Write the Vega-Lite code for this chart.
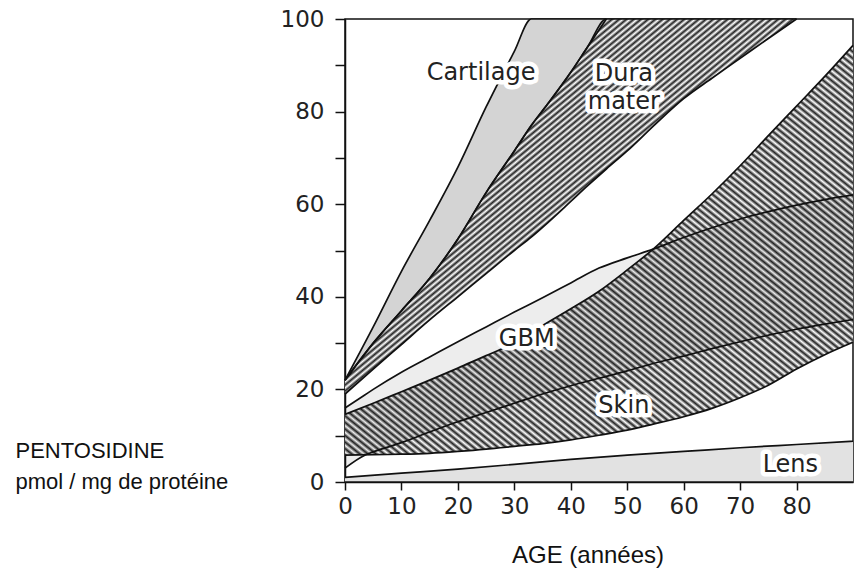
{
"$schema": "https://vega.github.io/schema/vega-lite/v6.json",
"width": 508,
"height": 463,
"autosize": {"type": "none"},
"padding": {"left": 345, "top": 19, "right": 4, "bottom": 87},
"background": "white",
"config": {
 "view": {"stroke": "#111", "strokeWidth": 1.5},
 "axis": {"grid": false, "domainColor": "#111", "domainWidth": 1.5, "tickColor": "#111", "tickWidth": 1.5, "labelFont": "DejaVu Sans", "labelFontSize": 23, "labelColor": "#222", "labelFlush": false, "labelOverlap": false, "titleFont": "Liberation Sans", "titleFontWeight": "normal", "titleColor": "#111"}
},
"datasets": {
 "bands": [
  {"band": "Cartilage", "age": 0, "lo": 22, "hi": 22},
  {"band": "Cartilage", "age": 5, "lo": 30, "hi": 33.5},
  {"band": "Cartilage", "age": 10, "lo": 37, "hi": 45.5},
  {"band": "Cartilage", "age": 15, "lo": 44, "hi": 56.5},
  {"band": "Cartilage", "age": 20, "lo": 52.5, "hi": 68},
  {"band": "Cartilage", "age": 25, "lo": 62.5, "hi": 81},
  {"band": "Cartilage", "age": 30, "lo": 71.5, "hi": 93},
  {"band": "Cartilage", "age": 33, "lo": 77, "hi": 100},
  {"band": "Cartilage", "age": 36, "lo": 81.8, "hi": 100},
  {"band": "Cartilage", "age": 40, "lo": 88.5, "hi": 100},
  {"band": "Cartilage", "age": 43, "lo": 94, "hi": 100},
  {"band": "Cartilage", "age": 46.3, "lo": 100, "hi": 100},
  {"band": "Dura", "age": 0, "lo": 19, "hi": 22},
  {"band": "Dura", "age": 5, "lo": 24.4, "hi": 30},
  {"band": "Dura", "age": 10, "lo": 29.7, "hi": 37},
  {"band": "Dura", "age": 15, "lo": 35, "hi": 44},
  {"band": "Dura", "age": 20, "lo": 40, "hi": 52.5},
  {"band": "Dura", "age": 25, "lo": 45, "hi": 62.5},
  {"band": "Dura", "age": 30, "lo": 50, "hi": 71.5},
  {"band": "Dura", "age": 33, "lo": 52.9, "hi": 77},
  {"band": "Dura", "age": 36, "lo": 56.1, "hi": 81.8},
  {"band": "Dura", "age": 40, "lo": 60.6, "hi": 88.5},
  {"band": "Dura", "age": 43, "lo": 64, "hi": 94},
  {"band": "Dura", "age": 46.3, "lo": 67.6, "hi": 100},
  {"band": "Dura", "age": 50, "lo": 71.5, "hi": 100},
  {"band": "Dura", "age": 55, "lo": 77.3, "hi": 100},
  {"band": "Dura", "age": 60, "lo": 82.8, "hi": 100},
  {"band": "Dura", "age": 65, "lo": 87.2, "hi": 100},
  {"band": "Dura", "age": 70, "lo": 91.5, "hi": 100},
  {"band": "Dura", "age": 75, "lo": 95.8, "hi": 100},
  {"band": "Dura", "age": 80, "lo": 100, "hi": 100},
  {"band": "GBM", "age": 0, "lo": 3, "hi": 16},
  {"band": "GBM", "age": 3.5, "lo": 5.8, "hi": 18.8},
  {"band": "GBM", "age": 5, "lo": 6.5, "hi": 20},
  {"band": "GBM", "age": 10, "lo": 8.5, "hi": 23.7},
  {"band": "GBM", "age": 15, "lo": 10.8, "hi": 27},
  {"band": "GBM", "age": 20, "lo": 13, "hi": 30.3},
  {"band": "GBM", "age": 25, "lo": 15, "hi": 33.5},
  {"band": "GBM", "age": 30, "lo": 17, "hi": 36.7},
  {"band": "GBM", "age": 35, "lo": 19, "hi": 39.8},
  {"band": "GBM", "age": 40, "lo": 20.8, "hi": 43},
  {"band": "GBM", "age": 45, "lo": 22.4, "hi": 46.2},
  {"band": "GBM", "age": 50, "lo": 24, "hi": 48.4},
  {"band": "GBM", "age": 54.6, "lo": 25.6, "hi": 50.3},
  {"band": "GBM", "age": 60, "lo": 27.2, "hi": 52.8},
  {"band": "GBM", "age": 65, "lo": 28.8, "hi": 54.9},
  {"band": "GBM", "age": 70, "lo": 30.3, "hi": 56.8},
  {"band": "GBM", "age": 75, "lo": 31.7, "hi": 58.4},
  {"band": "GBM", "age": 80, "lo": 33, "hi": 59.8},
  {"band": "GBM", "age": 85, "lo": 34.1, "hi": 61},
  {"band": "GBM", "age": 90, "lo": 35.1, "hi": 62},
  {"band": "Skin", "age": 0, "lo": 5.8, "hi": 14.6},
  {"band": "Skin", "age": 5, "lo": 5.9, "hi": 17},
  {"band": "Skin", "age": 10, "lo": 6, "hi": 19.5},
  {"band": "Skin", "age": 15, "lo": 6.2, "hi": 22},
  {"band": "Skin", "age": 20, "lo": 6.6, "hi": 24.6},
  {"band": "Skin", "age": 25, "lo": 7.1, "hi": 27.3},
  {"band": "Skin", "age": 27.5, "lo": 7.4, "hi": 28.6},
  {"band": "Skin", "age": 30, "lo": 7.7, "hi": 30.3},
  {"band": "Skin", "age": 35, "lo": 8.3, "hi": 33.8},
  {"band": "Skin", "age": 40, "lo": 9.1, "hi": 37.4},
  {"band": "Skin", "age": 45, "lo": 10.1, "hi": 41.2},
  {"band": "Skin", "age": 50, "lo": 11.2, "hi": 45.8},
  {"band": "Skin", "age": 54.6, "lo": 12.5, "hi": 50.3},
  {"band": "Skin", "age": 60, "lo": 14.1, "hi": 56.5},
  {"band": "Skin", "age": 65, "lo": 15.9, "hi": 62.2},
  {"band": "Skin", "age": 70, "lo": 18.2, "hi": 68.3},
  {"band": "Skin", "age": 75, "lo": 20.9, "hi": 74.8},
  {"band": "Skin", "age": 80, "lo": 24.4, "hi": 81.2},
  {"band": "Skin", "age": 85, "lo": 27.5, "hi": 87.6},
  {"band": "Skin", "age": 90, "lo": 30.2, "hi": 94.3},
  {"band": "Lens", "age": 0, "lo": 0, "hi": 1},
  {"band": "Lens", "age": 10, "lo": 0, "hi": 1.9},
  {"band": "Lens", "age": 20, "lo": 0, "hi": 2.8},
  {"band": "Lens", "age": 30, "lo": 0, "hi": 3.8},
  {"band": "Lens", "age": 40, "lo": 0, "hi": 4.9},
  {"band": "Lens", "age": 50, "lo": 0, "hi": 5.8},
  {"band": "Lens", "age": 60, "lo": 0, "hi": 6.6},
  {"band": "Lens", "age": 70, "lo": 0, "hi": 7.4},
  {"band": "Lens", "age": 80, "lo": 0, "hi": 8.1},
  {"band": "Lens", "age": 90, "lo": 0, "hi": 8.8}
 ],
 "labels": [
  {"label": "Cartilage", "age": 24.1, "value": 86.9},
  {"label": "Dura\nmater", "age": 49.4, "value": 86.6},
  {"label": "GBM", "age": 32.2, "value": 29.4},
  {"label": "Skin", "age": 49.4, "value": 14.9},
  {"label": "Lens", "age": 78.9, "value": 2.2}
 ]
},
"encoding": {
 "x": {"field": "age", "type": "quantitative", "scale": {"domain": [0, 90], "nice": false, "zero": false},
  "axis": {"values": [0, 10, 20, 30, 40, 50, 60, 70, 80], "tickSize": 8, "labelPadding": 5, "title": "AGE (années)", "titleFontSize": 24, "titleX": 242.5, "titleY": 80, "titleAlign": "center", "titleBaseline": "alphabetic"}}
},
"layer": [
 {
  "data": {"name": "bands"},
  "transform": [{"filter": "datum.band === 'Dura'"}],
  "mark": {"type": "area", "interpolate": "monotone", "fill": {"gradient": "linear", "x1": 0, "y1": 0, "x2": 1, "y2": 1, "stops": [
{"offset":0,"color":"#222"},{"offset":0.004,"color":"#fff"},{"offset":0.008,"color":"#222"},{"offset":0.012,"color":"#fff"},{"offset":0.016,"color":"#222"},{"offset":0.02,"color":"#fff"},{"offset":0.024,"color":"#222"},{"offset":0.028,"color":"#fff"},{"offset":0.032,"color":"#222"},{"offset":0.036,"color":"#fff"},
{"offset":0.04,"color":"#222"},{"offset":0.044,"color":"#fff"},{"offset":0.048,"color":"#222"},{"offset":0.052,"color":"#fff"},{"offset":0.056,"color":"#222"},{"offset":0.06,"color":"#fff"},{"offset":0.064,"color":"#222"},{"offset":0.068,"color":"#fff"},{"offset":0.072,"color":"#222"},{"offset":0.076,"color":"#fff"},
{"offset":0.08,"color":"#222"},{"offset":0.084,"color":"#fff"},{"offset":0.088,"color":"#222"},{"offset":0.092,"color":"#fff"},{"offset":0.096,"color":"#222"},{"offset":0.1,"color":"#fff"},{"offset":0.104,"color":"#222"},{"offset":0.108,"color":"#fff"},{"offset":0.112,"color":"#222"},{"offset":0.116,"color":"#fff"},
{"offset":0.12,"color":"#222"},{"offset":0.124,"color":"#fff"},{"offset":0.128,"color":"#222"},{"offset":0.132,"color":"#fff"},{"offset":0.136,"color":"#222"},{"offset":0.14,"color":"#fff"},{"offset":0.144,"color":"#222"},{"offset":0.148,"color":"#fff"},{"offset":0.152,"color":"#222"},{"offset":0.156,"color":"#fff"},
{"offset":0.16,"color":"#222"},{"offset":0.164,"color":"#fff"},{"offset":0.168,"color":"#222"},{"offset":0.172,"color":"#fff"},{"offset":0.176,"color":"#222"},{"offset":0.18,"color":"#fff"},{"offset":0.184,"color":"#222"},{"offset":0.188,"color":"#fff"},{"offset":0.192,"color":"#222"},{"offset":0.196,"color":"#fff"},
{"offset":0.2,"color":"#222"},{"offset":0.204,"color":"#fff"},{"offset":0.208,"color":"#222"},{"offset":0.212,"color":"#fff"},{"offset":0.216,"color":"#222"},{"offset":0.22,"color":"#fff"},{"offset":0.224,"color":"#222"},{"offset":0.228,"color":"#fff"},{"offset":0.232,"color":"#222"},{"offset":0.236,"color":"#fff"},
{"offset":0.24,"color":"#222"},{"offset":0.244,"color":"#fff"},{"offset":0.248,"color":"#222"},{"offset":0.252,"color":"#fff"},{"offset":0.256,"color":"#222"},{"offset":0.26,"color":"#fff"},{"offset":0.264,"color":"#222"},{"offset":0.268,"color":"#fff"},{"offset":0.272,"color":"#222"},{"offset":0.276,"color":"#fff"},
{"offset":0.28,"color":"#222"},{"offset":0.284,"color":"#fff"},{"offset":0.288,"color":"#222"},{"offset":0.292,"color":"#fff"},{"offset":0.296,"color":"#222"},{"offset":0.3,"color":"#fff"},{"offset":0.304,"color":"#222"},{"offset":0.308,"color":"#fff"},{"offset":0.312,"color":"#222"},{"offset":0.316,"color":"#fff"},
{"offset":0.32,"color":"#222"},{"offset":0.324,"color":"#fff"},{"offset":0.328,"color":"#222"},{"offset":0.332,"color":"#fff"},{"offset":0.336,"color":"#222"},{"offset":0.34,"color":"#fff"},{"offset":0.344,"color":"#222"},{"offset":0.348,"color":"#fff"},{"offset":0.352,"color":"#222"},{"offset":0.356,"color":"#fff"},
{"offset":0.36,"color":"#222"},{"offset":0.364,"color":"#fff"},{"offset":0.368,"color":"#222"},{"offset":0.372,"color":"#fff"},{"offset":0.376,"color":"#222"},{"offset":0.38,"color":"#fff"},{"offset":0.384,"color":"#222"},{"offset":0.388,"color":"#fff"},{"offset":0.392,"color":"#222"},{"offset":0.396,"color":"#fff"},
{"offset":0.4,"color":"#222"},{"offset":0.404,"color":"#fff"},{"offset":0.408,"color":"#222"},{"offset":0.412,"color":"#fff"},{"offset":0.416,"color":"#222"},{"offset":0.42,"color":"#fff"},{"offset":0.424,"color":"#222"},{"offset":0.428,"color":"#fff"},{"offset":0.432,"color":"#222"},{"offset":0.436,"color":"#fff"},
{"offset":0.44,"color":"#222"},{"offset":0.444,"color":"#fff"},{"offset":0.448,"color":"#222"},{"offset":0.452,"color":"#fff"},{"offset":0.456,"color":"#222"},{"offset":0.46,"color":"#fff"},{"offset":0.464,"color":"#222"},{"offset":0.468,"color":"#fff"},{"offset":0.472,"color":"#222"},{"offset":0.476,"color":"#fff"},
{"offset":0.48,"color":"#222"},{"offset":0.484,"color":"#fff"},{"offset":0.488,"color":"#222"},{"offset":0.492,"color":"#fff"},{"offset":0.496,"color":"#222"},{"offset":0.5,"color":"#fff"},{"offset":0.504,"color":"#222"},{"offset":0.508,"color":"#fff"},{"offset":0.512,"color":"#222"},{"offset":0.516,"color":"#fff"},
{"offset":0.52,"color":"#222"},{"offset":0.524,"color":"#fff"},{"offset":0.528,"color":"#222"},{"offset":0.532,"color":"#fff"},{"offset":0.536,"color":"#222"},{"offset":0.54,"color":"#fff"},{"offset":0.544,"color":"#222"},{"offset":0.548,"color":"#fff"},{"offset":0.552,"color":"#222"},{"offset":0.556,"color":"#fff"},
{"offset":0.56,"color":"#222"},{"offset":0.564,"color":"#fff"},{"offset":0.568,"color":"#222"},{"offset":0.572,"color":"#fff"},{"offset":0.576,"color":"#222"},{"offset":0.58,"color":"#fff"},{"offset":0.584,"color":"#222"},{"offset":0.588,"color":"#fff"},{"offset":0.592,"color":"#222"},{"offset":0.596,"color":"#fff"},
{"offset":0.6,"color":"#222"},{"offset":0.604,"color":"#fff"},{"offset":0.608,"color":"#222"},{"offset":0.612,"color":"#fff"},{"offset":0.616,"color":"#222"},{"offset":0.62,"color":"#fff"},{"offset":0.624,"color":"#222"},{"offset":0.628,"color":"#fff"},{"offset":0.632,"color":"#222"},{"offset":0.636,"color":"#fff"},
{"offset":0.64,"color":"#222"},{"offset":0.644,"color":"#fff"},{"offset":0.648,"color":"#222"},{"offset":0.652,"color":"#fff"},{"offset":0.656,"color":"#222"},{"offset":0.66,"color":"#fff"},{"offset":0.664,"color":"#222"},{"offset":0.668,"color":"#fff"},{"offset":0.672,"color":"#222"},{"offset":0.676,"color":"#fff"},
{"offset":0.68,"color":"#222"},{"offset":0.684,"color":"#fff"},{"offset":0.688,"color":"#222"},{"offset":0.692,"color":"#fff"},{"offset":0.696,"color":"#222"},{"offset":0.7,"color":"#fff"},{"offset":0.704,"color":"#222"},{"offset":0.708,"color":"#fff"},{"offset":0.712,"color":"#222"},{"offset":0.716,"color":"#fff"},
{"offset":0.72,"color":"#222"},{"offset":0.724,"color":"#fff"},{"offset":0.728,"color":"#222"},{"offset":0.732,"color":"#fff"},{"offset":0.736,"color":"#222"},{"offset":0.74,"color":"#fff"},{"offset":0.744,"color":"#222"},{"offset":0.748,"color":"#fff"},{"offset":0.752,"color":"#222"},{"offset":0.756,"color":"#fff"},
{"offset":0.76,"color":"#222"},{"offset":0.764,"color":"#fff"},{"offset":0.768,"color":"#222"},{"offset":0.772,"color":"#fff"},{"offset":0.776,"color":"#222"},{"offset":0.78,"color":"#fff"},{"offset":0.784,"color":"#222"},{"offset":0.788,"color":"#fff"},{"offset":0.792,"color":"#222"},{"offset":0.796,"color":"#fff"},
{"offset":0.8,"color":"#222"},{"offset":0.804,"color":"#fff"},{"offset":0.808,"color":"#222"},{"offset":0.812,"color":"#fff"},{"offset":0.816,"color":"#222"},{"offset":0.82,"color":"#fff"},{"offset":0.824,"color":"#222"},{"offset":0.828,"color":"#fff"},{"offset":0.832,"color":"#222"},{"offset":0.836,"color":"#fff"},
{"offset":0.84,"color":"#222"},{"offset":0.844,"color":"#fff"},{"offset":0.848,"color":"#222"},{"offset":0.852,"color":"#fff"},{"offset":0.856,"color":"#222"},{"offset":0.86,"color":"#fff"},{"offset":0.864,"color":"#222"},{"offset":0.868,"color":"#fff"},{"offset":0.872,"color":"#222"},{"offset":0.876,"color":"#fff"},
{"offset":0.88,"color":"#222"},{"offset":0.884,"color":"#fff"},{"offset":0.888,"color":"#222"},{"offset":0.892,"color":"#fff"},{"offset":0.896,"color":"#222"},{"offset":0.9,"color":"#fff"},{"offset":0.904,"color":"#222"},{"offset":0.908,"color":"#fff"},{"offset":0.912,"color":"#222"},{"offset":0.916,"color":"#fff"},
{"offset":0.92,"color":"#222"},{"offset":0.924,"color":"#fff"},{"offset":0.928,"color":"#222"},{"offset":0.932,"color":"#fff"},{"offset":0.936,"color":"#222"},{"offset":0.94,"color":"#fff"},{"offset":0.944,"color":"#222"},{"offset":0.948,"color":"#fff"},{"offset":0.952,"color":"#222"},{"offset":0.956,"color":"#fff"},
{"offset":0.96,"color":"#222"},{"offset":0.964,"color":"#fff"},{"offset":0.968,"color":"#222"},{"offset":0.972,"color":"#fff"},{"offset":0.976,"color":"#222"},{"offset":0.98,"color":"#fff"},{"offset":0.984,"color":"#222"},{"offset":0.988,"color":"#fff"},{"offset":0.992,"color":"#222"},{"offset":0.996,"color":"#fff"},
{"offset":1,"color":"#222"}
  ]}},
  "encoding": {
   "y": {"field": "hi", "type": "quantitative", "scale": {"domain": [0, 100], "nice": false},
    "axis": {"values": [0, 10, 20, 30, 40, 50, 60, 70, 80, 90, 100], "labelExpr": "datum.value % 20 === 0 ? datum.label : ''", "tickSize": 10, "labelPadding": 11, "title": ["PENTOSIDINE", "pmol / mg de protéine"], "titleAngle": 0, "titleAlign": "left", "titleBaseline": "alphabetic", "titleX": -330, "titleY": 438, "titleFontSize": 22, "titleLineHeight": 31}},
   "y2": {"field": "lo"}
  }
 },
 {
  "data": {"name": "bands"},
  "transform": [{"filter": "datum.band === 'Cartilage'"}],
  "mark": {"type": "area", "interpolate": "monotone", "fill": "#d4d4d4"},
  "encoding": {
   "y": {"field": "hi", "type": "quantitative", "scale": {"domain": [0, 100], "nice": false}},
   "y2": {"field": "lo"}
  }
 },
 {
  "data": {"name": "bands"},
  "transform": [{"filter": "datum.band === 'Skin'"}],
  "mark": {"type": "area", "interpolate": "monotone", "fill": {"gradient": "linear", "x1": 0, "y1": 1, "x2": 1, "y2": 0, "stops": [
{"offset":0,"color":"#222"},{"offset":0.004,"color":"#fff"},{"offset":0.008,"color":"#222"},{"offset":0.012,"color":"#fff"},{"offset":0.016,"color":"#222"},{"offset":0.02,"color":"#fff"},{"offset":0.024,"color":"#222"},{"offset":0.028,"color":"#fff"},{"offset":0.032,"color":"#222"},{"offset":0.036,"color":"#fff"},
{"offset":0.04,"color":"#222"},{"offset":0.044,"color":"#fff"},{"offset":0.048,"color":"#222"},{"offset":0.052,"color":"#fff"},{"offset":0.056,"color":"#222"},{"offset":0.06,"color":"#fff"},{"offset":0.064,"color":"#222"},{"offset":0.068,"color":"#fff"},{"offset":0.072,"color":"#222"},{"offset":0.076,"color":"#fff"},
{"offset":0.08,"color":"#222"},{"offset":0.084,"color":"#fff"},{"offset":0.088,"color":"#222"},{"offset":0.092,"color":"#fff"},{"offset":0.096,"color":"#222"},{"offset":0.1,"color":"#fff"},{"offset":0.104,"color":"#222"},{"offset":0.108,"color":"#fff"},{"offset":0.112,"color":"#222"},{"offset":0.116,"color":"#fff"},
{"offset":0.12,"color":"#222"},{"offset":0.124,"color":"#fff"},{"offset":0.128,"color":"#222"},{"offset":0.132,"color":"#fff"},{"offset":0.136,"color":"#222"},{"offset":0.14,"color":"#fff"},{"offset":0.144,"color":"#222"},{"offset":0.148,"color":"#fff"},{"offset":0.152,"color":"#222"},{"offset":0.156,"color":"#fff"},
{"offset":0.16,"color":"#222"},{"offset":0.164,"color":"#fff"},{"offset":0.168,"color":"#222"},{"offset":0.172,"color":"#fff"},{"offset":0.176,"color":"#222"},{"offset":0.18,"color":"#fff"},{"offset":0.184,"color":"#222"},{"offset":0.188,"color":"#fff"},{"offset":0.192,"color":"#222"},{"offset":0.196,"color":"#fff"},
{"offset":0.2,"color":"#222"},{"offset":0.204,"color":"#fff"},{"offset":0.208,"color":"#222"},{"offset":0.212,"color":"#fff"},{"offset":0.216,"color":"#222"},{"offset":0.22,"color":"#fff"},{"offset":0.224,"color":"#222"},{"offset":0.228,"color":"#fff"},{"offset":0.232,"color":"#222"},{"offset":0.236,"color":"#fff"},
{"offset":0.24,"color":"#222"},{"offset":0.244,"color":"#fff"},{"offset":0.248,"color":"#222"},{"offset":0.252,"color":"#fff"},{"offset":0.256,"color":"#222"},{"offset":0.26,"color":"#fff"},{"offset":0.264,"color":"#222"},{"offset":0.268,"color":"#fff"},{"offset":0.272,"color":"#222"},{"offset":0.276,"color":"#fff"},
{"offset":0.28,"color":"#222"},{"offset":0.284,"color":"#fff"},{"offset":0.288,"color":"#222"},{"offset":0.292,"color":"#fff"},{"offset":0.296,"color":"#222"},{"offset":0.3,"color":"#fff"},{"offset":0.304,"color":"#222"},{"offset":0.308,"color":"#fff"},{"offset":0.312,"color":"#222"},{"offset":0.316,"color":"#fff"},
{"offset":0.32,"color":"#222"},{"offset":0.324,"color":"#fff"},{"offset":0.328,"color":"#222"},{"offset":0.332,"color":"#fff"},{"offset":0.336,"color":"#222"},{"offset":0.34,"color":"#fff"},{"offset":0.344,"color":"#222"},{"offset":0.348,"color":"#fff"},{"offset":0.352,"color":"#222"},{"offset":0.356,"color":"#fff"},
{"offset":0.36,"color":"#222"},{"offset":0.364,"color":"#fff"},{"offset":0.368,"color":"#222"},{"offset":0.372,"color":"#fff"},{"offset":0.376,"color":"#222"},{"offset":0.38,"color":"#fff"},{"offset":0.384,"color":"#222"},{"offset":0.388,"color":"#fff"},{"offset":0.392,"color":"#222"},{"offset":0.396,"color":"#fff"},
{"offset":0.4,"color":"#222"},{"offset":0.404,"color":"#fff"},{"offset":0.408,"color":"#222"},{"offset":0.412,"color":"#fff"},{"offset":0.416,"color":"#222"},{"offset":0.42,"color":"#fff"},{"offset":0.424,"color":"#222"},{"offset":0.428,"color":"#fff"},{"offset":0.432,"color":"#222"},{"offset":0.436,"color":"#fff"},
{"offset":0.44,"color":"#222"},{"offset":0.444,"color":"#fff"},{"offset":0.448,"color":"#222"},{"offset":0.452,"color":"#fff"},{"offset":0.456,"color":"#222"},{"offset":0.46,"color":"#fff"},{"offset":0.464,"color":"#222"},{"offset":0.468,"color":"#fff"},{"offset":0.472,"color":"#222"},{"offset":0.476,"color":"#fff"},
{"offset":0.48,"color":"#222"},{"offset":0.484,"color":"#fff"},{"offset":0.488,"color":"#222"},{"offset":0.492,"color":"#fff"},{"offset":0.496,"color":"#222"},{"offset":0.5,"color":"#fff"},{"offset":0.504,"color":"#222"},{"offset":0.508,"color":"#fff"},{"offset":0.512,"color":"#222"},{"offset":0.516,"color":"#fff"},
{"offset":0.52,"color":"#222"},{"offset":0.524,"color":"#fff"},{"offset":0.528,"color":"#222"},{"offset":0.532,"color":"#fff"},{"offset":0.536,"color":"#222"},{"offset":0.54,"color":"#fff"},{"offset":0.544,"color":"#222"},{"offset":0.548,"color":"#fff"},{"offset":0.552,"color":"#222"},{"offset":0.556,"color":"#fff"},
{"offset":0.56,"color":"#222"},{"offset":0.564,"color":"#fff"},{"offset":0.568,"color":"#222"},{"offset":0.572,"color":"#fff"},{"offset":0.576,"color":"#222"},{"offset":0.58,"color":"#fff"},{"offset":0.584,"color":"#222"},{"offset":0.588,"color":"#fff"},{"offset":0.592,"color":"#222"},{"offset":0.596,"color":"#fff"},
{"offset":0.6,"color":"#222"},{"offset":0.604,"color":"#fff"},{"offset":0.608,"color":"#222"},{"offset":0.612,"color":"#fff"},{"offset":0.616,"color":"#222"},{"offset":0.62,"color":"#fff"},{"offset":0.624,"color":"#222"},{"offset":0.628,"color":"#fff"},{"offset":0.632,"color":"#222"},{"offset":0.636,"color":"#fff"},
{"offset":0.64,"color":"#222"},{"offset":0.644,"color":"#fff"},{"offset":0.648,"color":"#222"},{"offset":0.652,"color":"#fff"},{"offset":0.656,"color":"#222"},{"offset":0.66,"color":"#fff"},{"offset":0.664,"color":"#222"},{"offset":0.668,"color":"#fff"},{"offset":0.672,"color":"#222"},{"offset":0.676,"color":"#fff"},
{"offset":0.68,"color":"#222"},{"offset":0.684,"color":"#fff"},{"offset":0.688,"color":"#222"},{"offset":0.692,"color":"#fff"},{"offset":0.696,"color":"#222"},{"offset":0.7,"color":"#fff"},{"offset":0.704,"color":"#222"},{"offset":0.708,"color":"#fff"},{"offset":0.712,"color":"#222"},{"offset":0.716,"color":"#fff"},
{"offset":0.72,"color":"#222"},{"offset":0.724,"color":"#fff"},{"offset":0.728,"color":"#222"},{"offset":0.732,"color":"#fff"},{"offset":0.736,"color":"#222"},{"offset":0.74,"color":"#fff"},{"offset":0.744,"color":"#222"},{"offset":0.748,"color":"#fff"},{"offset":0.752,"color":"#222"},{"offset":0.756,"color":"#fff"},
{"offset":0.76,"color":"#222"},{"offset":0.764,"color":"#fff"},{"offset":0.768,"color":"#222"},{"offset":0.772,"color":"#fff"},{"offset":0.776,"color":"#222"},{"offset":0.78,"color":"#fff"},{"offset":0.784,"color":"#222"},{"offset":0.788,"color":"#fff"},{"offset":0.792,"color":"#222"},{"offset":0.796,"color":"#fff"},
{"offset":0.8,"color":"#222"},{"offset":0.804,"color":"#fff"},{"offset":0.808,"color":"#222"},{"offset":0.812,"color":"#fff"},{"offset":0.816,"color":"#222"},{"offset":0.82,"color":"#fff"},{"offset":0.824,"color":"#222"},{"offset":0.828,"color":"#fff"},{"offset":0.832,"color":"#222"},{"offset":0.836,"color":"#fff"},
{"offset":0.84,"color":"#222"},{"offset":0.844,"color":"#fff"},{"offset":0.848,"color":"#222"},{"offset":0.852,"color":"#fff"},{"offset":0.856,"color":"#222"},{"offset":0.86,"color":"#fff"},{"offset":0.864,"color":"#222"},{"offset":0.868,"color":"#fff"},{"offset":0.872,"color":"#222"},{"offset":0.876,"color":"#fff"},
{"offset":0.88,"color":"#222"},{"offset":0.884,"color":"#fff"},{"offset":0.888,"color":"#222"},{"offset":0.892,"color":"#fff"},{"offset":0.896,"color":"#222"},{"offset":0.9,"color":"#fff"},{"offset":0.904,"color":"#222"},{"offset":0.908,"color":"#fff"},{"offset":0.912,"color":"#222"},{"offset":0.916,"color":"#fff"},
{"offset":0.92,"color":"#222"},{"offset":0.924,"color":"#fff"},{"offset":0.928,"color":"#222"},{"offset":0.932,"color":"#fff"},{"offset":0.936,"color":"#222"},{"offset":0.94,"color":"#fff"},{"offset":0.944,"color":"#222"},{"offset":0.948,"color":"#fff"},{"offset":0.952,"color":"#222"},{"offset":0.956,"color":"#fff"},
{"offset":0.96,"color":"#222"},{"offset":0.964,"color":"#fff"},{"offset":0.968,"color":"#222"},{"offset":0.972,"color":"#fff"},{"offset":0.976,"color":"#222"},{"offset":0.98,"color":"#fff"},{"offset":0.984,"color":"#222"},{"offset":0.988,"color":"#fff"},{"offset":0.992,"color":"#222"},{"offset":0.996,"color":"#fff"},
{"offset":1,"color":"#222"}
  ]}},
  "encoding": {
   "y": {"field": "hi", "type": "quantitative", "scale": {"domain": [0, 100], "nice": false}},
   "y2": {"field": "lo"}
  }
 },
 {
  "data": {"name": "bands"},
  "transform": [{"filter": "datum.band === 'GBM'"}],
  "mark": {"type": "area", "interpolate": "monotone", "fill": "#000", "fillOpacity": 0.07},
  "encoding": {
   "y": {"field": "hi", "type": "quantitative", "scale": {"domain": [0, 100], "nice": false}},
   "y2": {"field": "lo"}
  }
 },
 {
  "data": {"name": "bands"},
  "transform": [{"filter": "datum.band === 'Lens'"}],
  "mark": {"type": "area", "interpolate": "monotone", "fill": "#e2e2e2"},
  "encoding": {
   "y": {"field": "hi", "type": "quantitative", "scale": {"domain": [0, 100], "nice": false}},
   "y2": {"field": "lo"}
  }
 },
 {
  "data": {"name": "bands"},
  "mark": {"type": "line", "interpolate": "monotone", "color": "#111", "strokeWidth": 1.7},
  "encoding": {
   "y": {"field": "hi", "type": "quantitative", "scale": {"domain": [0, 100], "nice": false}},
   "detail": {"field": "band"}
  }
 },
 {
  "data": {"name": "bands"},
  "mark": {"type": "line", "interpolate": "monotone", "color": "#111", "strokeWidth": 1.7},
  "encoding": {
   "y": {"field": "lo", "type": "quantitative", "scale": {"domain": [0, 100], "nice": false}},
   "detail": {"field": "band"}
  }
 },
 {
  "data": {"name": "labels"},
  "mark": {"type": "text", "align": "center", "baseline": "alphabetic", "lineBreak": "\n", "lineHeight": 28, "font": "DejaVu Sans", "fontSize": 24, "fill": "white", "stroke": "white", "strokeWidth": 9, "strokeJoin": "round"},
  "encoding": {
   "y": {"field": "value", "type": "quantitative", "scale": {"domain": [0, 100], "nice": false}},
   "text": {"field": "label"}
  }
 },
 {
  "data": {"name": "labels"},
  "mark": {"type": "text", "align": "center", "baseline": "alphabetic", "lineBreak": "\n", "lineHeight": 28, "font": "DejaVu Sans", "fontSize": 24, "fill": "#222"},
  "encoding": {
   "y": {"field": "value", "type": "quantitative", "scale": {"domain": [0, 100], "nice": false}},
   "text": {"field": "label"}
  }
 }
]
}
